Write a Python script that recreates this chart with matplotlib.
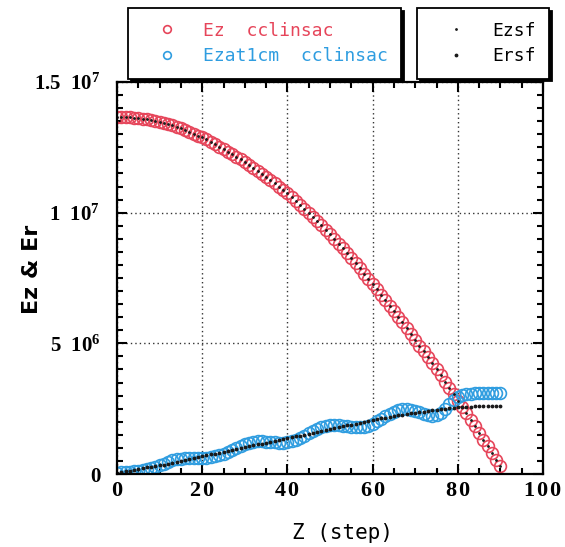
import matplotlib
matplotlib.use("Agg")
import matplotlib.pyplot as plt
from matplotlib.ticker import MultipleLocator, FixedLocator, FixedFormatter

# step index along z
z = list(range(91))

# Ez cclinsac (red circles), units of 1e6
ez = [13.66, 13.66, 13.65, 13.65, 13.64, 13.62, 13.60, 13.58, 13.55, 13.52,
      13.48, 13.44, 13.39, 13.34, 13.29, 13.23, 13.16, 13.09, 13.02, 12.95,
      12.88, 12.80, 12.71, 12.62, 12.53, 12.44, 12.34, 12.24, 12.14, 12.04,
      11.93, 11.82, 11.71, 11.60, 11.49, 11.37, 11.25, 11.12, 11.00, 10.87,
      10.74, 10.60, 10.45, 10.30, 10.15, 10.00, 9.84, 9.67, 9.51, 9.34,
      9.17, 8.99, 8.81, 8.63, 8.45, 8.26, 8.07, 7.87, 7.67, 7.47,
      7.27, 7.06, 6.85, 6.65, 6.44, 6.23, 6.02, 5.80, 5.58, 5.36,
      5.14, 4.91, 4.69, 4.46, 4.23, 4.00, 3.77, 3.53, 3.29, 3.05,
      2.81, 2.56, 2.32, 2.07, 1.82, 1.57, 1.31, 1.06, 0.80, 0.55, 0.29]

# Ezat1cm cclinsac (blue circles), units of 1e6
ez1cm = [0.05, 0.08, 0.08, 0.08, 0.10, 0.12, 0.15, 0.19, 0.23, 0.28,
         0.34, 0.40, 0.47, 0.52, 0.56, 0.59, 0.61, 0.62, 0.62, 0.62,
         0.62, 0.62, 0.64, 0.67, 0.72, 0.77, 0.84, 0.92, 1.00, 1.07,
         1.14, 1.19, 1.23, 1.25, 1.25, 1.24, 1.22, 1.21, 1.20, 1.20,
         1.22, 1.25, 1.31, 1.38, 1.47, 1.56, 1.66, 1.74, 1.81, 1.85,
         1.88, 1.88, 1.87, 1.84, 1.82, 1.79, 1.78, 1.78, 1.81, 1.85,
         1.93, 2.02, 2.12, 2.22, 2.31, 2.39, 2.45, 2.48, 2.48, 2.46,
         2.42, 2.36, 2.30, 2.25, 2.22, 2.24, 2.33, 2.48, 2.66, 2.83,
         2.96, 3.04, 3.07, 3.08, 3.09, 3.09, 3.09, 3.09, 3.09, 3.09, 3.09]

# Ezsf dots sit on the centres of the red circles
ezsf = ez

# Ersf (black dots), units of 1e6
ersf = [0.05, 0.08, 0.11, 0.13, 0.16, 0.19, 0.22, 0.25, 0.27, 0.30,
        0.33, 0.36, 0.40, 0.43, 0.47, 0.50, 0.54, 0.57, 0.61, 0.64,
        0.68, 0.71, 0.75, 0.78, 0.82, 0.85, 0.89, 0.92, 0.96, 0.99,
        1.03, 1.06, 1.10, 1.13, 1.16, 1.20, 1.23, 1.27, 1.30, 1.34,
        1.37, 1.40, 1.44, 1.47, 1.51, 1.54, 1.58, 1.61, 1.65, 1.68,
        1.72, 1.75, 1.79, 1.82, 1.86, 1.89, 1.93, 1.96, 2.00, 2.03,
        2.07, 2.10, 2.13, 2.16, 2.18, 2.21, 2.24, 2.27, 2.30, 2.32,
        2.35, 2.37, 2.39, 2.41, 2.43, 2.45, 2.47, 2.49, 2.52, 2.54,
        2.56, 2.57, 2.58, 2.58, 2.59, 2.59, 2.60, 2.60, 2.60, 2.61, 2.61]

xticks = [0, 20, 40, 60, 80, 100]
xtick_labels = ['0', '2\u200a0', '4\u200a0', '6\u200a0', '8\u200a0', '1\u200a0\u200a0']
yticks = [0, 5e6, 1e7, 1.5e7]
ytick_labels = ['0', r'5  $\mathbf{10^{6}}$', r'1  $\mathbf{10^{7}}$', r'1.5  $\mathbf{10^{7}}$']

red = '#e6455a'
blue = '#2f9de0'
mono = 'DejaVu Sans Mono'
serif = 'Liberation Serif'

plt.rcParams['mathtext.fontset'] = 'custom'
plt.rcParams['mathtext.bf'] = 'Liberation Serif:bold'
plt.rcParams['mathtext.rm'] = 'Liberation Serif:bold'

fig = plt.figure(figsize=(5.65, 5.47), dpi=100)
ax = fig.add_axes([117/565, 1 - 474/547, 426/565, 392/547])

scale = 1e6
h1, = ax.plot(z, [v * scale for v in ez], 'o', color=red, mfc='none', ms=8.5, mew=1.2,
              label='Ez  cclinsac')
h2, = ax.plot(z, [v * scale for v in ez1cm], 'o', color=blue, mfc='none', ms=8.5, mew=1.2,
              label='Ezat1cm  cclinsac')
h3, = ax.plot(z, [v * scale for v in ezsf], '.', color='#1a1a1a', ms=2.0, label='Ezsf')
h4, = ax.plot(z, [v * scale for v in ersf], '.', color='#1a1a1a', ms=3.5, label='Ersf')

ax.set_xlim(0, 100)
ax.set_ylim(0, 1.5e7)
ax.xaxis.set_major_locator(FixedLocator(xticks))
ax.xaxis.set_major_formatter(FixedFormatter(xtick_labels))
ax.xaxis.set_minor_locator(MultipleLocator(5))
ax.yaxis.set_major_locator(FixedLocator(yticks))
ax.yaxis.set_major_formatter(FixedFormatter(ytick_labels))
ax.yaxis.set_minor_locator(MultipleLocator(5e5))

ax.tick_params(which='both', direction='in', top=True, right=True, width=1.5)
ax.tick_params(which='major', length=7)
ax.tick_params(which='minor', length=4)
ax.tick_params(axis='x', pad=5)
ax.tick_params(axis='y', pad=12)
for lab in ax.get_xticklabels():
    lab.set_fontfamily(serif)
    lab.set_fontweight('bold')
    lab.set_fontsize(16)
for lab in ax.get_yticklabels():
    lab.set_fontfamily(serif)
    lab.set_fontweight('bold')
    lab.set_fontsize(15)
for s in ax.spines.values():
    s.set_linewidth(1.6)

ax.grid(True, which='major', linestyle=(0, (1, 2.2)), color='#333333', linewidth=1.0)

ax.set_xlabel('Z (step)', fontfamily=mono, fontsize=15)
ax.xaxis.set_label_coords((342 - 117) / 426, -0.125)
ax.set_ylabel('Ez & Er', fontfamily='DejaVu Sans', fontsize=16, fontweight='bold')
ax.yaxis.set_label_coords((42 - 117) / 426, 0.523)

leg_kw = dict(loc='upper left', bbox_transform=fig.transFigure, borderaxespad=0,
              fancybox=False, shadow={'color': 'black', 'alpha': 1.0},
              edgecolor='black', framealpha=1, prop={'family': mono, 'size': 13},
              borderpad=0.75, handlelength=2.85, handletextpad=0.55, labelspacing=0.42,
              markerscale=0.65)
leg1 = fig.legend([h1, h2], ['Ez  cclinsac', 'Ezat1cm  cclinsac'],
                  bbox_to_anchor=(128/565, 1 - 8/547), labelcolor='linecolor', **leg_kw)
leg1.get_frame().set_linewidth(1.3)
leg_kw['markerscale'] = 1.0
leg2 = fig.legend([h3, h4], ['Ezsf', 'Ersf'],
                  bbox_to_anchor=(417/565, 1 - 8/547), **leg_kw)
leg2.get_frame().set_linewidth(1.3)

fig.savefig('out.png', dpi=100)
